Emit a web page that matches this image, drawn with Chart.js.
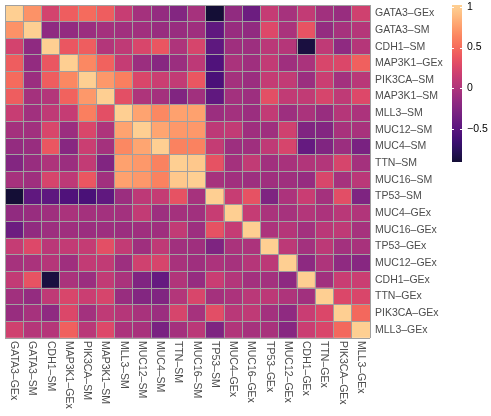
<!DOCTYPE html>
<html><head><meta charset="utf-8">
<script src="https://cdn.jsdelivr.net/npm/chart.js@4/dist/chart.umd.min.js"></script>
<style>html,body{margin:0;padding:0;background:#fff}#wrap{width:491px;height:416px;position:relative}</style>
</head><body><div id="wrap"><canvas id="c" width="491" height="416"></canvas></div>
<script>
// ---- data ----
const names = ['GATA3–GEx','GATA3–SM','CDH1–SM','MAP3K1–GEx','PIK3CA–SM','MAP3K1–SM','MLL3–SM','MUC12–SM','MUC4–SM','TTN–SM','MUC16–SM','TP53–SM','MUC4–GEx','MUC16–GEx','TP53–GEx','MUC12–GEx','CDH1–GEx','TTN–GEx','PIK3CA–GEx','MLL3–GEx'];
// upper triangle of the correlation matrix, each row starting at the diagonal
const r01 = [1, 0.70, 0.22, 0.42, 0.50, 0.42, 0.15, -0.05, -0.14, -0.24, -0.04, -0.90, -0.16, -0.38, 0.14, -0.04, 0.12, -0.07, -0.12, 0.20];
const r02 = [1, -0.17, -0.15, -0.10, -0.05, -0.07, -0.07, -0.12, -0.12, -0.08, -0.45, -0.12, -0.16, 0.28, -0.02, 0.36, -0.14, -0.04, 0.04];
const r03 = [1, 0.38, 0.42, 0.03, 0.10, 0.25, 0.38, 0.00, 0.24, -0.46, -0.08, -0.09, 0.07, 0.04, -0.86, 0.10, -0.17, 0.04];
const r04 = [1, 0.65, 0.45, 0.14, -0.10, -0.22, -0.10, 0.09, -0.55, -0.02, -0.08, 0.12, -0.08, -0.02, 0.25, 0.27, 0.44];
const r05 = [1, 0.73, 0.60, 0.26, 0.17, 0.12, 0.38, -0.58, -0.05, -0.10, 0.13, 0.12, -0.10, 0.17, -0.06, 0.06];
const r06 = [1, 0.33, 0.00, -0.05, -0.25, -0.07, -0.45, -0.06, -0.09, 0.33, 0.11, 0.11, 0.24, 0.10, 0.28];
const r07 = [1, 0.78, 0.65, 0.77, 0.77, -0.10, -0.06, -0.10, 0.12, -0.09, -0.02, -0.12, 0.04, -0.01];
const r08 = [1, 0.79, 0.73, 0.73, 0.09, 0.12, -0.08, -0.08, 0.20, -0.26, -0.24, -0.03, -0.03];
const r09 = [1, 0.62, 0.62, 0.13, -0.09, -0.08, 0.10, 0.24, -0.42, -0.26, -0.10, -0.30];
const r10 = [1, 0.96, 0.35, -0.05, 0.11, -0.07, -0.03, 0.02, 0.03, 0.24, -0.05];
const r11 = [1, -0.04, -0.07, -0.09, -0.08, -0.08, -0.13, 0.25, -0.04, 0.07];
const r12 = [1, 0.15, 0.35, -0.27, -0.01, 0.16, -0.05, 0.32, -0.27];
const r13 = [1, 0.14, -0.02, -0.04, 0.03, -0.01, 0.06, 0.02];
const r14 = [1, -0.01, 0.04, -0.06, 0.07, 0.10, -0.04];
const r15 = [1, 0.08, -0.06, 0.08, -0.06, -0.03];
const r16 = [1, -0.18, 0.00, -0.17, -0.22];
const r17 = [1, -0.07, 0.16, 0.17];
const r18 = [1, 0.27, 0.26];
const r19 = [1, 0.48];
const r20 = [1];
const legendTicks = [1, 0.5, 0, -0.5];
const legendTickLabels = ['1', '0.5', '0', '−0.5'];
const colorMin = -0.9, colorMax = 1;

// ---- build matrix (symmetric) ----
const upper = [r01,r02,r03,r04,r05,r06,r07,r08,r09,r10,r11,r12,r13,r14,r15,r16,r17,r18,r19,r20];
const n = names.length;
const M = names.map((_, i) => names.map((_, j) => i <= j ? upper[i][j - i] : upper[j][i - j]));

// ---- magma colour scale ----
const magmaHex = ['#000004','#0b0924','#140e36','#251255','#3b0f70','#51127c','#641a80','#782281','#8c2981','#a1307e','#b73779','#ca3e72','#de4968','#ed5a5f','#f7705c','#fb8761','#fe9f6d','#feb97f','#fecf92','#fde7a9','#fcfdbf'];
const magmaRGB = magmaHex.map(h => [1,3,5].map(k => parseInt(h.substr(k,2),16)));
function magmaAt(t) {
  t = Math.max(0, Math.min(1, t));
  const p = t * (magmaRGB.length - 1);
  const i = Math.min(Math.floor(p), magmaRGB.length - 2);
  const f = p - i;
  const a = magmaRGB[i], b = magmaRGB[i + 1];
  return 'rgb(' + a.map((v, k) => Math.round(v + (b[k] - v) * f)).join(',') + ')';
}
function colorFor(v) {
  const t = 0.1 + 0.8 * (v - colorMin) / (colorMax - colorMin);
  return magmaAt(t);
}

const FONT = '"Liberation Sans", Arial, Helvetica, sans-serif';
const TXT = '#4d4d4d';

// datasets: stacked unit bars, bottom row first
const datasets = [];
for (let d = 0; d < n; d++) {
  const row = n - 1 - d;
  datasets.push({
    label: names[row],
    data: names.map(() => 1),
    backgroundColor: names.map((_, c) => colorFor(M[row][c])),
    borderWidth: 0,
    barPercentage: 1,
    categoryPercentage: 1,
    yAxisID: 'y'
  });
}

const extras = {
  id: 'extras',
  afterDraw(chart) {
    const ctx = chart.ctx;
    const xs = chart.scales.x;
    const area = chart.chartArea;
    ctx.save();
    // rotated x labels (reading downward)
    ctx.fillStyle = TXT;
    ctx.font = '10.5px ' + FONT;
    ctx.textAlign = 'left';
    ctx.textBaseline = 'middle';
    names.forEach((lab, i) => {
      const x = xs.getPixelForValue(i);
      ctx.save();
      ctx.translate(x, area.bottom + 3);
      ctx.rotate(Math.PI / 2);
      ctx.fillText(lab, 0, 0);
      ctx.restore();
    });
    // colour bar legend
    const bx = 452, bw = 10, top = 5, bot = 162;
    const vTop = 1.02, vBot = colorMin;
    const g = ctx.createLinearGradient(0, bot, 0, top);
    for (let k = 0; k <= 40; k++) {
      const f = k / 40;
      const v = vBot + (vTop - vBot) * f;
      g.addColorStop(f, colorFor(Math.min(v, colorMax)));
    }
    ctx.fillStyle = g;
    ctx.fillRect(bx, top, bw, bot - top);
    ctx.fillStyle = '#000';
    ctx.font = '10.5px ' + FONT;
    ctx.textAlign = 'left';
    ctx.textBaseline = 'middle';
    legendTicks.forEach((v, k) => {
      const y = top + (vTop - v) / (vTop - vBot) * (bot - top);
      ctx.strokeStyle = '#fff';
      ctx.lineWidth = 1;
      ctx.beginPath();
      ctx.moveTo(bx, Math.round(y) + 0.5); ctx.lineTo(bx + 2, Math.round(y) + 0.5);
      ctx.moveTo(bx + bw - 2, Math.round(y) + 0.5); ctx.lineTo(bx + bw, Math.round(y) + 0.5);
      ctx.stroke();
      ctx.fillText(legendTickLabels[k], bx + bw + 5, y);
    });
    ctx.restore();
  }
};

new Chart(document.getElementById('c'), {
  type: 'bar',
  data: { labels: names, datasets },
  options: {
    responsive: false,
    animation: false,
    events: [],
    layout: { padding: { left: 5, top: 5, right: 0, bottom: 0 } },
    plugins: { legend: { display: false }, tooltip: { enabled: false } },
    scales: {
      x: {
        type: 'category', stacked: true, offset: true,
        grid: { offset: true, z: 1, color: '#a0a0a0', lineWidth: 1, drawTicks: false },
        border: { display: false },
        ticks: { display: false },
        afterFit(s) { s.height = 78; s.paddingLeft = 0; s.paddingRight = 0; }
      },
      y: {
        type: 'linear', stacked: true, min: 0, max: n, position: 'left',
        grid: { z: 1, color: '#a0a0a0', lineWidth: 1, drawTicks: false },
        border: { display: false },
        ticks: { display: false },
        afterBuildTicks(s) { s.ticks = names.map((_, i) => ({ value: i })).concat([{ value: n }]); },
        afterFit(s) { s.width = 0; s.paddingTop = 0; s.paddingBottom = 0; }
      },
      yr: {
        type: 'category', labels: names, position: 'right', offset: true,
        grid: { display: false, drawTicks: false },
        border: { display: false },
        ticks: { color: TXT, font: { family: FONT, size: 10.5 }, padding: 5, autoSkip: false },
        afterFit(s) { s.width = 121; s.paddingTop = 0; s.paddingBottom = 0; }
      }
    }
  },
  plugins: [extras]
});
</script>
</body></html>
